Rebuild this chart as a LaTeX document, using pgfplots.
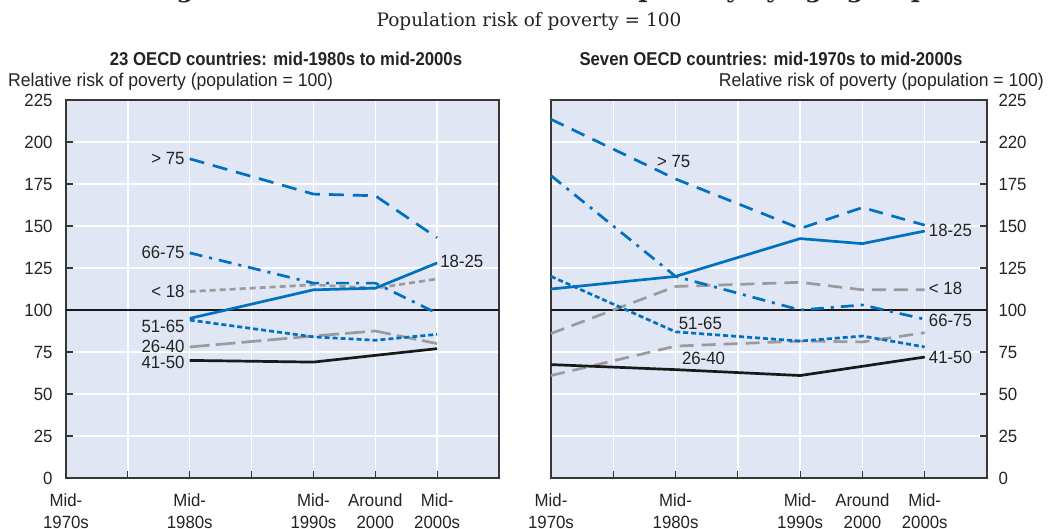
\documentclass[border=0pt]{standalone}
\usepackage{fontspec}
\setmainfont{Liberation Sans}[FakeStretch=0.95]
\newfontfamily\condbold{Liberation Sans}[FakeStretch=0.9]
\newfontfamily\slab{DejaVu Serif}
\usepackage{pgfplots}
\pgfplotsset{compat=1.18}
\definecolor{oblue}{RGB}{0,112,192}
\definecolor{ogray}{RGB}{155,155,155}
\definecolor{bgc}{RGB}{224,230,244}
\definecolor{txt}{RGB}{35,35,35}
\definecolor{framec}{RGB}{55,55,55}
\newcommand{\tf}{\fontsize{17.7}{22}\selectfont}
\tikzset{lab/.style={font=\tf, text=txt, inner sep=0pt}}
\pgfplotsset{
 panel/.style={
  scale only axis, height=378pt,
  xmin=0, xmax=7, ymin=0, ymax=225,
  axis background/.style={fill=bgc},
  axis line style={framec, line width=1.6pt},
  xtick={1,...,6},
  xticklabels={,Mid-\\1980s,,Mid-\\1990s,Around\\2000,Mid-\\2000s},
  extra x ticks={0},
  extra x tick labels={Mid-\\1970s},
  extra x tick style={grid=none, major tick length=0pt},
  ytick={0,25,...,225},
  xmajorgrids, ymajorgrids,
  grid style={white, line width=1.5pt},
  tick align=inside, major tick length=7pt,
  tick style={framec, line width=1.2pt},
  xtick pos=bottom,
  xticklabel style={align=center, font=\tf, text=txt, yshift=-12pt},
  yticklabel style={font=\tf, text=txt},
  every axis plot/.append style={line width=2.7pt},
  clip=false,
 },
 s75/.style={oblue, dash pattern=on 15pt off 9pt},
 s6675/.style={oblue, dash pattern=on 13pt off 7pt on 3pt off 7pt},
 s1825/.style={oblue},
 s5165/.style={oblue, dash pattern=on 5pt off 3pt},
 s4150/.style={black!90},
}
\begin{document}
\begin{tikzpicture}
\useasboundingbox (0,0) rectangle (1056pt,-529pt);
% titles
\node[font=\slab\bfseries\fontsize{24.6}{28}\selectfont, anchor=base, text=txt] at (539pt,2.6pt) {Figure 5.3. Relative risk of income poverty by age group};
\node[font=\slab\fontsize{18.5}{22}\selectfont, anchor=base, text=txt] at (529pt,-27pt) {Population risk of poverty = 100};
\node[font=\condbold\bfseries\fontsize{18.6}{22}\selectfont, anchor=base, text=txt] at (286pt,-66pt) {23 OECD countries: mid-1980s to mid-2000s};
\node[font=\condbold\bfseries\fontsize{18.6}{22}\selectfont, anchor=base, text=txt] at (771pt,-66pt) {Seven OECD countries: mid-1970s to mid-2000s};
\node[font=\fontsize{18.5}{22}\selectfont, anchor=base west, text=txt, inner sep=0pt] at (8pt,-87pt) {Relative risk of poverty (population = 100)};
\node[font=\fontsize{18.5}{22}\selectfont, anchor=base east, text=txt, inner sep=0pt] at (1044pt,-87pt) {Relative risk of poverty (population = 100)};

% left panel
\begin{axis}[panel, at={(66pt,-478pt)}, anchor=south west, width=433pt,
  ytick pos=left, yticklabel style={xshift=-10pt},
  yticklabels={0,25,50,75,100,125,150,175,200,225}]
\addplot[black!90, line width=1.5pt, forget plot] coordinates {(0,100) (7,100)};
\addplot[ogray, dash pattern=on 20pt off 6pt] coordinates {(2,78) (4,84.5) (5,87.5) (6,80)};
\addplot[ogray, dash pattern=on 6pt off 4pt] coordinates {(2,111) (4,115) (5,113) (6,118.5)};
\addplot[s4150] coordinates {(2,70) (4,69) (5,73) (6,77)};
\addplot[s5165] coordinates {(2,94) (4,84) (5,82) (6,85.5)};
\addplot[s6675] coordinates {(2,134) (4,116) (5,116) (6,98)};
\addplot[s1825] coordinates {(2,95) (4,112) (5,113) (6,128)};
\addplot[s75] coordinates {(2,190) (4,169) (5,168) (6,143)};
\node[lab, anchor=east, xshift=-5pt] at (axis cs:2,190) {> 75};
\node[lab, anchor=east, xshift=-5pt] at (axis cs:2,134) {66-75};
\node[lab, anchor=east, xshift=-5pt] at (axis cs:2,111) {< 18};
\node[lab, anchor=east, xshift=-5pt] at (axis cs:2,90.5) {51-65};
\node[lab, anchor=east, xshift=-5pt] at (axis cs:2,78.6) {26-40};
\node[lab, anchor=east, xshift=-5pt] at (axis cs:2,68.6) {41-50};
\node[lab, anchor=west, xshift=3pt] at (axis cs:6,129) {18-25};
\end{axis}

% right panel
\begin{axis}[panel, at={(551pt,-478pt)}, anchor=south west, width=436pt,
  ytick pos=right, yticklabel pos=right, yticklabel style={xshift=8pt},
  yticklabels={0,25,50,75,100,125,150,175,220,225}]
\addplot[black!90, line width=1.5pt, forget plot] coordinates {(0,100) (7,100)};
\addplot[ogray, dash pattern=on 14pt off 8pt] coordinates {(0,61) (2,78.5) (4,81.5) (5,81) (6,86.5)};
\addplot[ogray, dash pattern=on 14pt off 8pt] coordinates {(0,86) (2,114) (4,116.5) (5,112) (6,112)};
\addplot[s4150] coordinates {(0,67.5) (2,64.5) (4,61) (5,66.5) (6,72)};
\addplot[s5165] coordinates {(0,120) (2,87) (4,81.5) (5,84.5) (6,78)};
\addplot[s6675] coordinates {(0,180) (2,120) (4,100) (5,103) (6,94.5)};
\addplot[s1825] coordinates {(0,112.5) (2,120) (4,142.5) (5,139.5) (6,147)};
\addplot[s75, dash pattern=on 14pt off 9pt] coordinates {(0,213.5) (2,178) (4,148.5) (5,161) (6,150.5)};
\node[lab, anchor=west] at (axis cs:1.70,188.5) {> 75};
\node[lab, anchor=west, xshift=4pt] at (axis cs:6,147.6) {18-25};
\node[lab, anchor=west, xshift=4pt] at (axis cs:6,113) {< 18};
\node[lab, anchor=west, xshift=4pt] at (axis cs:6,94) {66-75};
\node[lab, anchor=west, xshift=4pt] at (axis cs:6,72) {41-50};
\node[lab, anchor=west] at (axis cs:2.05,92) {51-65};
\node[lab, anchor=west] at (axis cs:2.1,71.4) {26-40};
\end{axis}
\end{tikzpicture}
\end{document}
